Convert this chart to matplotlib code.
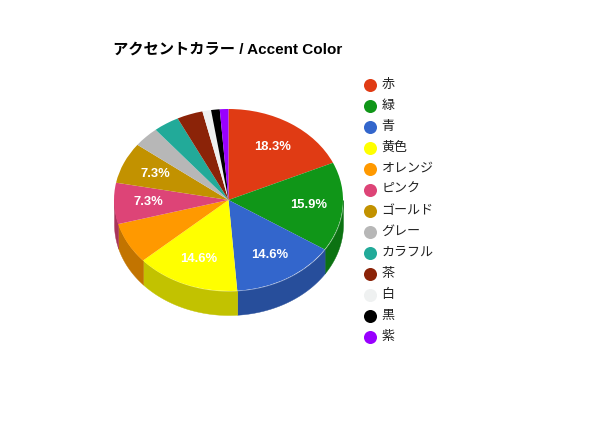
import numpy as np
import matplotlib
matplotlib.use('Agg')
import matplotlib.pyplot as plt
from matplotlib.colors import to_rgb

plt.rcParams['font.family'] = ['Liberation Sans', 'Noto Sans CJK JP', 'DejaVu Sans']

# data
names = ['赤', '緑', '青', '黄色', 'オレンジ', 'ピンク', 'ゴールド', 'グレー', 'カラフル', '茶', '白', '黒', '紫']
values = [15, 13, 12, 12, 6, 6, 6, 3, 3, 3, 1, 1, 1]
colors = ['#e03b14', '#109618', '#3366cc', '#ffff00', '#ff9900', '#dd4477', '#c29200',
          '#b7b7b7', '#22aa99', '#8b2308', '#eff1f1', '#000000', '#9900ff']
no_label = ['オレンジ', 'グレー', 'カラフル', '茶', '白', '黒', '紫']
title = 'アクセントカラー / Accent Color'

W, H = 596, 422
fig = plt.figure(figsize=(W / 100, H / 100), dpi=100)

# pie box in pixels, squashed so it looks tilted
cx, cy, rx, ry, depth = 228.5, 200, 114.5, 91, 24
ax = fig.add_axes([(cx - rx) / W, 1 - (cy + ry + depth) / H, 2 * rx / W, (2 * ry + depth) / H])

wedges, _, pcts = ax.pie(values, colors=colors, startangle=90, counterclock=False,
                         autopct='%.1f%%', pctdistance=0.7, radius=1,
                         wedgeprops={'linewidth': 0}, normalize=True)
ax.set_aspect('auto')
ax.set_xlim(-1, 1)
ax.set_ylim(-1 - depth / ry, 1)

for name, t in zip(names, pcts):
    t.set_color('white')
    t.set_fontweight('bold')
    t.set_fontsize(9.4)
    if name in no_label:
        t.set_visible(False)

# side wall, only the front half of the pie shows it
d = depth / ry
for w, c in zip(wedges, colors):
    a1, a2 = w.theta1 % 360, w.theta2 % 360
    if a2 <= a1:
        a2 += 360
    lo = max(a1, 180)
    hi = min(a2, 360)
    if hi <= lo:
        continue
    t = np.radians(np.linspace(lo, hi, 60))
    dark = [v * 0.76 for v in to_rgb(c)]
    ax.fill_between(np.cos(t), np.sin(t), np.sin(t) - d, color=dark, linewidth=0.3, zorder=0)

# overlay in pixel coordinates for title and legend
ov = fig.add_axes([0, 0, 1, 1])
ov.set_xlim(0, W)
ov.set_ylim(H, 0)
ov.axis('off')
ov.patch.set_alpha(0)

ov.text(113, 50, title, fontsize=11, fontweight='bold', color='black', va='center', ha='left')

for i, (name, c) in enumerate(zip(names, colors)):
    y = 85 + i * 21
    ov.scatter([370], [y], s=88, color=c, linewidths=0)
    ov.text(381.5, y, name, fontsize=9.4, color='#222222', va='center', ha='left')

fig.savefig('out.png', dpi=100)
